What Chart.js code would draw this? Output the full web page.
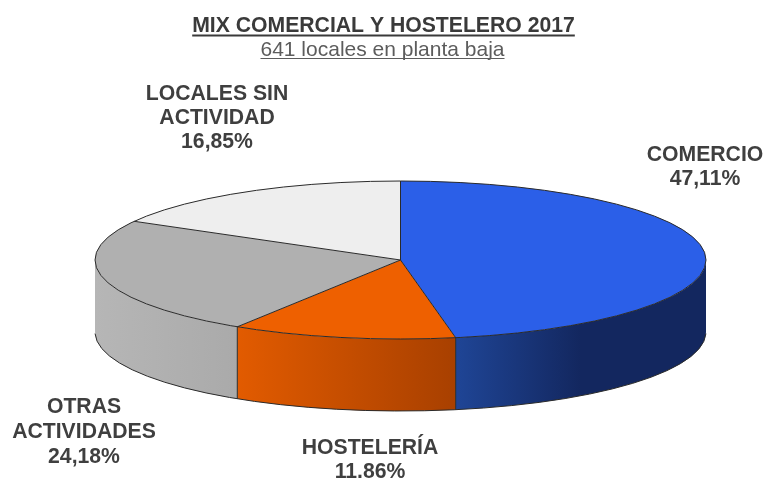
<!DOCTYPE html>
<html>
<head>
<meta charset="utf-8">
<script src="https://cdn.jsdelivr.net/npm/chart.js@4"></script>
<style>
    html, body { margin: 0; padding: 0; background: #fff; }
    #wrap { width: 765px; height: 479px; }
</style>
</head>
<body>
<div id="wrap"><canvas id="mixChart" width="765" height="479"></canvas></div>
<script>
// data
const categories = ['COMERCIO', 'HOSTELERÍA', 'OTRAS ACTIVIDADES', 'LOCALES SIN ACTIVIDAD'];
const shares = [47.11, 11.86, 24.18, 16.85];
const labelLines = [
    ['COMERCIO', '47,11%'],
    ['HOSTELERÍA', '11.86%'],
    ['OTRAS', 'ACTIVIDADES', '24,18%'],
    ['LOCALES SIN', 'ACTIVIDAD', '16,85%']
];
const titleText = 'MIX COMERCIAL Y HOSTELERO 2017';
const subtitleText = '641 locales en planta baja';

const topColors = ['#2b5fe8', '#ee6000', '#b0b0b0', '#eeeeee'];
// wall shading, left to right of each slice's visible wall
const wallColors = [
    ['#1f4596', '#13275f', '#13275f'],
    ['#e25b00', '#a84000'],
    ['#b6b6b6', '#aaaaaa'],
    ['#eeeeee', '#eeeeee']
];

// where the tilted pie sits on the page
const CX = 400.5, CY = 260, RX = 305.5, RY = 79, DEPTH = 72;
const labelSpots = [
    { x: 705, y: 161, gap: 24 },
    { x: 370, y: 454, gap: 24 },
    { x: 84, y: 413, gap: 25 },
    { x: 217, y: 100, gap: 24 }
];
const FONT = '"Liberation Sans", Arial, sans-serif';

function pt(angle, dy) {
    return { x: CX + RX * Math.cos(angle), y: CY + dy + RY * Math.sin(angle) };
}

const tiltedPie = {
    id: 'tiltedPie',
    beforeDatasetsDraw(chart) {
        const ctx = chart.ctx;
        const arcs = chart.getDatasetMeta(0).data;

        // side wall, only the front half shows
        arcs.forEach((arc, i) => {
            const a0 = Math.max(arc.startAngle, 0);
            const a1 = Math.min(arc.endAngle, Math.PI);
            if (a1 <= a0) return;
            const p0 = pt(a0, 0), p1 = pt(a1, 0);
            const grad = ctx.createLinearGradient(p1.x, 0, p0.x, 0);
            const stops = wallColors[i];
            stops.forEach((c, k) => grad.addColorStop(k / (stops.length - 1), c));
            ctx.beginPath();
            ctx.ellipse(CX, CY, RX, RY, 0, a0, a1);
            ctx.ellipse(CX, CY + DEPTH, RX, RY, 0, a1, a0, true);
            ctx.closePath();
            ctx.fillStyle = grad;
            ctx.fill();
        });

        // the library draws the arcs squashed into an ellipse
        const a = arcs[0];
        ctx.save();
        ctx.translate(CX, CY);
        ctx.scale(RX / a.outerRadius, RY / a.outerRadius);
        ctx.translate(-a.x, -a.y);
    },
    afterDatasetsDraw(chart) {
        const ctx = chart.ctx;
        const arcs = chart.getDatasetMeta(0).data;
        ctx.restore();

        ctx.strokeStyle = '#2a2a2a';
        ctx.lineWidth = 1;

        ctx.beginPath();
        ctx.ellipse(CX, CY, RX, RY, 0, 0, Math.PI * 2);
        ctx.stroke();
        ctx.beginPath();
        ctx.ellipse(CX, CY + DEPTH, RX, RY, 0, 0.02, Math.PI - 0.02);
        ctx.stroke();

        arcs.forEach(arc => {
            const p = pt(arc.startAngle, 0);
            ctx.beginPath();
            ctx.moveTo(CX, CY);
            ctx.lineTo(p.x, p.y);
            ctx.stroke();
            if (arc.startAngle > 0 && arc.startAngle < Math.PI) {
                ctx.beginPath();
                ctx.moveTo(p.x, p.y);
                ctx.lineTo(p.x, p.y + DEPTH);
                ctx.stroke();
            }
        });
    },
    afterDraw(chart) {
        const ctx = chart.ctx;
        ctx.textAlign = 'center';
        ctx.textBaseline = 'alphabetic';

        // title and subtitle, both underlined
        ctx.fillStyle = '#3a3a3a';
        ctx.font = 'bold 21.2px ' + FONT;
        ctx.fillText(titleText, 383.5, 32);
        let w = ctx.measureText(titleText).width;
        ctx.fillRect(383.5 - w / 2, 34.5, w, 2);

        ctx.fillStyle = '#5c5c5c';
        ctx.font = '21px ' + FONT;
        ctx.fillText(subtitleText, 382.5, 56);
        w = ctx.measureText(subtitleText).width;
        ctx.fillRect(382.5 - w / 2, 58, w, 1);

        ctx.fillStyle = '#3f3f3f';
        ctx.font = 'bold 21.2px ' + FONT;
        labelLines.forEach((lines, i) => {
            const s = labelSpots[i];
            lines.forEach((t, k) => ctx.fillText(t, s.x, s.y + k * s.gap));
        });
    }
};

new Chart(document.getElementById('mixChart').getContext('2d'), {
    type: 'pie',
    data: {
        labels: categories,
        datasets: [{
            data: shares,
            backgroundColor: topColors,
            borderWidth: 0,
            clip: false
        }]
    },
    options: {
        responsive: false,
        animation: false,
        events: [],
        plugins: {
            legend: { display: false },
            tooltip: { enabled: false }
        }
    },
    plugins: [tiltedPie]
});
</script>
</body>
</html>
